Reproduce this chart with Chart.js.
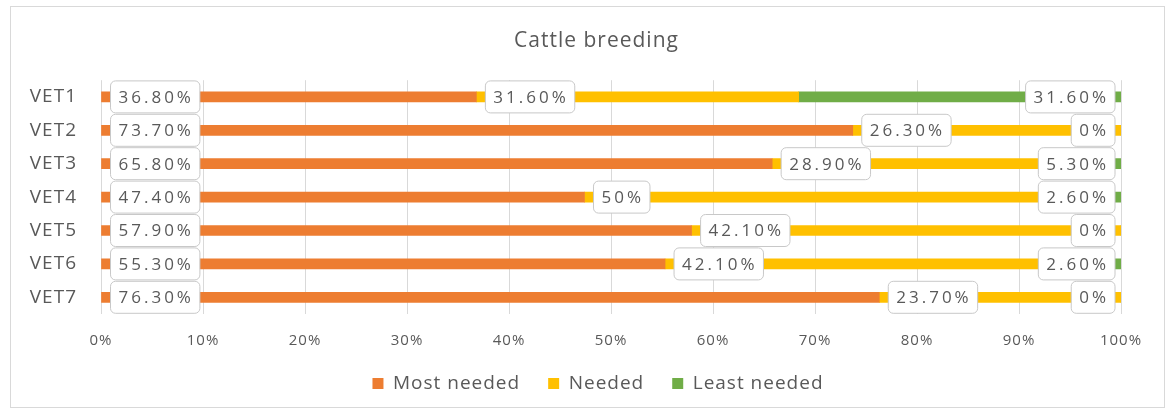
<!DOCTYPE html>
<html>
<head>
<meta charset="utf-8">
<script src="https://cdn.jsdelivr.net/npm/chart.js@4"></script>
<style>
  html, body { margin: 0; padding: 0; background: #fff; }
  #frame { position: absolute; left: 10px; top: 6px; width: 1153px; height: 400px; border: 1px solid #d9d9d9; }
  #wrap { position: absolute; left: 0; top: 0; width: 1173px; height: 414px; }
</style>
</head>
<body>
<div id="frame"></div>
<div id="wrap"><canvas id="cattleChart"></canvas></div>
<script>
const categories = ['VET1', 'VET2', 'VET3', 'VET4', 'VET5', 'VET6', 'VET7'];
const mostNeeded = [36.8, 73.7, 65.8, 47.4, 57.9, 55.3, 76.3];
const needed = [31.6, 26.3, 28.9, 50, 42.1, 42.1, 23.7];
const leastNeeded = [31.6, 0, 5.3, 2.6, 0, 2.6, 0];
const xTicks = [0, 10, 20, 30, 40, 50, 60, 70, 80, 90, 100];

const textColor = '#595959';
const fontFamily = '"Open Sans", sans-serif';

function fmt(v) {
    if (v === 0 || Number.isInteger(v)) return v + '%';
    return v.toFixed(2) + '%';
}

// wider text like the original; canvas state resets on resize so set it each pass
const spacing = {
    id: 'spacing',
    beforeUpdate(chart) { chart.ctx.letterSpacing = '1px'; },
    beforeDraw(chart) { chart.ctx.letterSpacing = '1px'; }
};

// title and legend centred under the frame, legend pulled up a little
const placeBlocks = {
    id: 'placeBlocks',
    afterLayout(chart) {
        if (chart.titleBlock) { chart.titleBlock.left = 20; chart.titleBlock.right = chart.width; }
        if (chart.legend) {
            chart.legend.left = 23; chart.legend.right = chart.width;
            chart.legend.top -= 8; chart.legend.bottom -= 8;
        }
    }
};

// draws the boxed value labels (no datalabels plugin available)
const boxLabels = {
    id: 'boxLabels',
    afterDatasetsDraw(chart) {
        const ctx = chart.ctx;
        ctx.save();
        ctx.font = '17px ' + fontFamily;
        ctx.letterSpacing = '3px';
        ctx.textBaseline = 'middle';
        ctx.textAlign = 'left';
        chart.data.datasets.forEach((ds, i) => {
            const meta = chart.getDatasetMeta(i);
            meta.data.forEach((bar, j) => {
                const text = fmt(ds.data[j]);
                const w = ctx.measureText(text).width + 14;
                const h = 32;
                let left;
                if (ds.labelPos === 'end') left = Math.max(bar.x, bar.base) - 6 - w;
                else left = Math.min(bar.x, bar.base) + 9;
                const top = bar.y - h / 2;
                ctx.beginPath();
                ctx.roundRect(left, top, w, h, 5);
                ctx.fillStyle = '#ffffff';
                ctx.fill();
                ctx.lineWidth = 1;
                ctx.strokeStyle = '#c8c8c8';
                ctx.stroke();
                ctx.fillStyle = textColor;
                ctx.fillText(text, left + 8, bar.y + 1);
            });
        });
        ctx.restore();
    }
};

const ctx = document.getElementById('cattleChart').getContext('2d');
new Chart(ctx, {
    type: 'bar',
    data: {
        labels: categories,
        datasets: [
            { label: 'Most needed', data: mostNeeded, backgroundColor: '#ED7D31', barThickness: 10, labelPos: 'start' },
            { label: 'Needed', data: needed, backgroundColor: '#FFC000', barThickness: 10, labelPos: 'start' },
            { label: 'Least needed', data: leastNeeded, backgroundColor: '#70AD47', barThickness: 10, labelPos: 'end' }
        ]
    },
    options: {
        indexAxis: 'y',
        responsive: true,
        maintainAspectRatio: false,
        animation: false,
        layout: { padding: { top: 28, right: 52, bottom: 3, left: 0 } },
        scales: {
            x: {
                stacked: true,
                min: 0,
                max: 100,
                afterBuildTicks: (scale) => { scale.ticks = xTicks.map(v => ({ value: v })); },
                afterFit: (scale) => { scale.height = 40; },
                ticks: { color: textColor, font: { family: fontFamily, size: 15 }, padding: 18, callback: (v) => v + '%' },
                grid: { color: '#d9d9d9', drawTicks: false },
                border: { display: false }
            },
            y: {
                stacked: true,
                afterFit: (scale) => { scale.width = 101; },
                ticks: { color: textColor, font: { family: fontFamily, size: 19 }, padding: 24 },
                grid: { display: false, drawTicks: false },
                border: { display: false }
            }
        },
        plugins: {
            title: { display: true, text: 'Cattle breeding', color: textColor, font: { family: fontFamily, size: 21, weight: 'normal' }, padding: { top: 0, bottom: 27 } },
            legend: { position: 'bottom', labels: { color: textColor, font: { family: fontFamily, size: 19 }, boxWidth: 11, boxHeight: 11, padding: 28 } },
            tooltip: { enabled: false }
        }
    },
    plugins: [spacing, placeBlocks, boxLabels]
});
</script>
</body>
</html>
